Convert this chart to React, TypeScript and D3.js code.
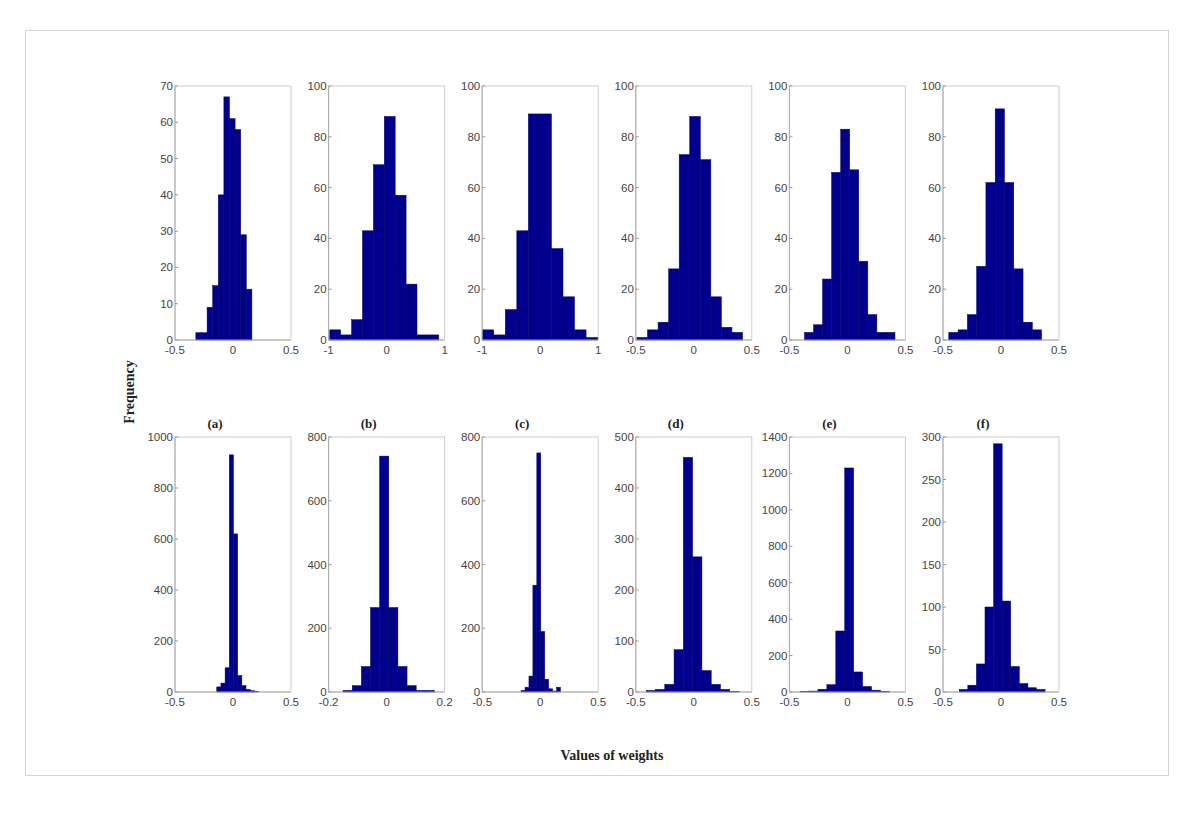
import React from "react";
import * as d3 from "d3";

// histogram data (10 bins per panel, like MATLAB hist)
const panelLabels = ["(a)", "(b)", "(c)", "(d)", "(e)", "(f)"];

const topCounts = [
  [2, 2, 9, 15, 40, 67, 61, 58, 29, 14],
  [4, 2, 8, 43, 69, 88, 57, 22, 2, 2],
  [4, 2, 12, 43, 89, 89, 36, 17, 4, 1],
  [1, 4, 7, 28, 73, 88, 71, 17, 5, 3],
  [3, 6, 24, 66, 83, 67, 31, 10, 3, 3],
  [3, 4, 10, 29, 62, 91, 62, 28, 7, 4],
];
const topBinRange = [[-0.32, 0.163], [-0.98, 0.9], [-1, 0.99], [-0.49, 0.42], [-0.37, 0.41], [-0.45, 0.35]];
const topXDomain = [[-0.5, 0.5], [-1, 1], [-1, 1], [-0.5, 0.5], [-0.5, 0.5], [-0.5, 0.5]];
const topXTickLabels = [["-0.5", "0", "0.5"], ["-1", "0", "1"], ["-1", "0", "1"], ["-0.5", "0", "0.5"], ["-0.5", "0", "0.5"], ["-0.5", "0", "0.5"]];
const topYMax = [70, 100, 100, 100, 100, 100];
const topYStep = [10, 20, 20, 20, 20, 20];

const bottomCounts = [
  [20, 35, 95, 930, 620, 65, 25, 10, 5, 2],
  [5, 20, 80, 265, 740, 265, 80, 20, 5, 5],
  [5, 15, 50, 335, 750, 190, 40, 10, 3, 15],
  [3, 5, 15, 83, 460, 265, 42, 15, 5, 1],
  [2, 5, 15, 40, 335, 1230, 110, 30, 10, 3],
  [3, 8, 33, 100, 292, 107, 30, 10, 5, 3],
];
const bottomBinRange = [[-0.14, 0.22], [-0.15, 0.165], [-0.165, 0.175], [-0.41, 0.39], [-0.408, 0.362], [-0.36, 0.38]];
const bottomXDomain = [[-0.5, 0.5], [-0.2, 0.2], [-0.5, 0.5], [-0.5, 0.5], [-0.5, 0.5], [-0.5, 0.5]];
const bottomXTickLabels = [["-0.5", "0", "0.5"], ["-0.2", "0", "0.2"], ["-0.5", "0", "0.5"], ["-0.5", "0", "0.5"], ["-0.5", "0", "0.5"], ["-0.5", "0", "0.5"]];
const bottomYMax = [1000, 800, 800, 500, 1400, 300];
const bottomYStep = [200, 200, 200, 100, 200, 50];

const W = 1200, H = 815;
const panelX0 = 175, panelStep = 153.6, panelW = 116;
const rowTop = [86, 437], rowH = [254, 255];
const barFill = "#00008c";
const tickFont = "'Liberation Sans', Arial, sans-serif";
const labelFont = "'Liberation Serif', 'Times New Roman', serif";

function Panel({ x0, y0, h, counts, binRange, xDomain, xTickLabels, yMax, yStep, label }: any) {
  const x = d3.scaleLinear().domain(xDomain).range([x0, x0 + panelW]);
  const y = d3.scaleLinear().domain([0, yMax]).range([y0 + h, y0]);
  const n = counts.length;
  const bw = (binRange[1] - binRange[0]) / n;
  const yTicks = d3.range(0, yMax + yStep / 2, yStep);
  const xTicks = [xDomain[0], (xDomain[0] + xDomain[1]) / 2, xDomain[1]];
  return (
    <g>
      {label && (
        <text x={x0 + 40} y={y0 - 9} fontFamily={labelFont} fontWeight="bold" fontSize={13} textAnchor="middle" fill="#222">
          {label}
        </text>
      )}
      <rect x={x0} y={y0} width={panelW} height={h} fill="#fff" stroke="#cdcdcd" strokeWidth={1} />
      {counts.map((c: number, i: number) => {
        const a = binRange[0] + i * bw;
        const b = a + bw;
        return (
          <rect key={i} x={x(a)} y={y(c)} width={x(b) - x(a)} height={y(0) - y(c)}
            fill={barFill} stroke="#00006a" strokeWidth={0.5} />
        );
      })}
      <line x1={x0} x2={x0} y1={y0} y2={y0 + h} stroke="#aaa" />
      <line x1={x0} x2={x0 + panelW} y1={y0 + h} y2={y0 + h} stroke="#aaa" />
      {yTicks.map((t: number) => (
        <g key={t}>
          <line x1={x0} x2={x0 + 3} y1={y(t)} y2={y(t)} stroke="#999" />
          <text x={x0 - 2} y={y(t) + 4} textAnchor="end" fontFamily={tickFont} fontSize={11.5} fill="#444">{t}</text>
        </g>
      ))}
      {xTicks.map((t: number, i: number) => (
        <text key={i} x={x(t)} y={y0 + h + 14} textAnchor="middle" fontFamily={tickFont} fontSize={11.5} fill="#444">
          {xTickLabels[i]}
        </text>
      ))}
    </g>
  );
}

export default function App() {
  return (
    <svg width={W} height={H} style={{ position: "absolute", left: 0, top: 0, background: "#fff" }}>
      <rect x={0} y={0} width={W} height={H} fill="#fff" />
      <rect x={25.5} y={30.5} width={1143} height={745} fill="#fff" stroke="#d4d4d4" />
      {topCounts.map((c, i) => (
        <Panel key={"t" + i} x0={panelX0 + i * panelStep} y0={rowTop[0]} h={rowH[0]} counts={c}
          binRange={topBinRange[i]} xDomain={topXDomain[i]} xTickLabels={topXTickLabels[i]}
          yMax={topYMax[i]} yStep={topYStep[i]} />
      ))}
      {bottomCounts.map((c, i) => (
        <Panel key={"b" + i} x0={panelX0 + i * panelStep} y0={rowTop[1]} h={rowH[1]} counts={c}
          binRange={bottomBinRange[i]} xDomain={bottomXDomain[i]} xTickLabels={bottomXTickLabels[i]}
          yMax={bottomYMax[i]} yStep={bottomYStep[i]} label={panelLabels[i]} />
      ))}
      <text transform="translate(134,392) rotate(-90)" textAnchor="middle" fontFamily={labelFont} fontWeight="bold" fontSize={14} fill="#222">
        Frequency
      </text>
      <text x={612} y={760} textAnchor="middle" fontFamily={labelFont} fontWeight="bold" fontSize={14} fill="#222">
        Values of weights
      </text>
    </svg>
  );
}
